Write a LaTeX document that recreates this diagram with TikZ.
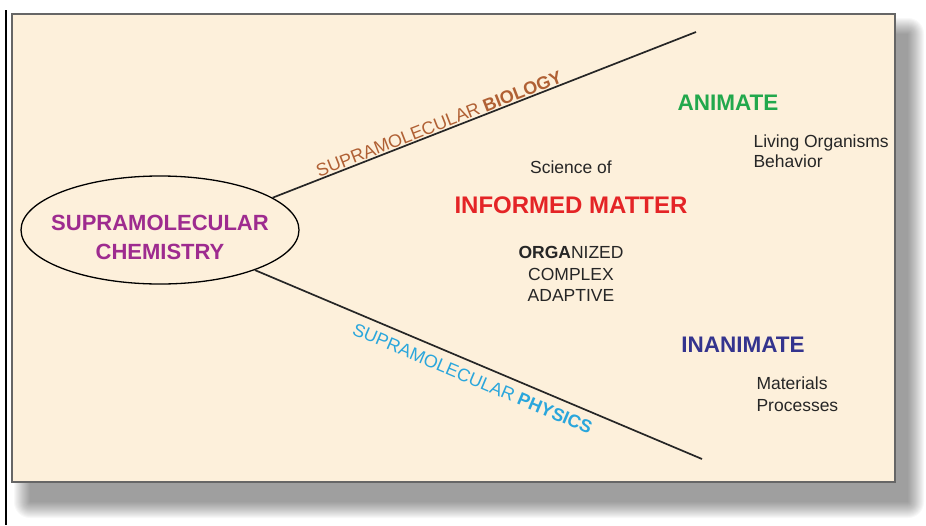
\documentclass[tikz,border=0pt]{standalone}
\usepackage{fontspec}
\setmainfont{Liberation Sans}
\usetikzlibrary{shapes.geometric}

\definecolor{paper}{RGB}{253,240,219}
\definecolor{chemcol}{RGB}{158,43,143}
\definecolor{biocol}{RGB}{176,96,52}
\definecolor{physcol}{RGB}{42,166,220}
\definecolor{animcol}{RGB}{34,168,76}
\definecolor{mattercol}{RGB}{228,36,38}
\definecolor{inanimcol}{RGB}{52,52,142}
\definecolor{textcol}{RGB}{38,38,38}

\tikzstyle{chem} = [ellipse, draw=black, line width=1.3pt, minimum width=278pt, minimum height=108pt, inner sep=0pt]
\tikzstyle{chemtext} = [text=chemcol, font=\fontsize{22}{29}\selectfont\bfseries, align=center]
\tikzstyle{branch} = [line width=1.7pt, black!85]
\tikzstyle{branchlabel} = [sloped, font=\fontsize{18}{20}\selectfont, inner sep=1pt]
\tikzstyle{heading} = [font=\fontsize{22.5}{27}\selectfont\bfseries]
\tikzstyle{plain} = [text=textcol, font=\fontsize{17.5}{21}\selectfont]

\begin{document}
\begin{tikzpicture}[x=1pt, y=-1pt, node distance=38pt]
\useasboundingbox (0,0) rectangle (926,525);

% soft shadow and panel
\foreach \r in {0,...,16}
  \fill[black, opacity=0.027, rounded corners=\r pt] (30-\r,34-\r) rectangle (908+\r,502+\r);
\fill[paper, draw=black!60, line width=1.2pt] (12,14) rectangle (895,482);
\draw[line width=1.2pt] (6,10) -- (6,525);

% left hub
\node (chem) [chem] at (160,230) {};
\node (chemname) [chemtext] at (160,237) {SUPRAMOLECULAR\\CHEMISTRY};

\coordinate (bioend) at (696,32);
\coordinate (physend) at (702,459);

\draw [branch] (chem.16) -- node[branchlabel, above, pos=0.40, text=biocol] {SUPRAMOLECULAR \textbf{BIOLOGY}} (bioend);
\draw [branch] (chem) -- node[branchlabel, below, pos=0.5, inner sep=8pt, text=physcol] {SUPRAMOLECULAR \textbf{PHYSICS}} (physend);

% middle
\node (matter) [heading, text=mattercol, font=\fontsize{24}{28}\selectfont\bfseries] at (571,205) {INFORMED MATTER};
\node (science) [plain, above of=matter] {Science of};
\node (traits) [plain, align=center, below of=matter, node distance=69pt, font=\fontsize{17.5}{21.5}\selectfont] {\textbf{ORGA}NIZED\\COMPLEX\\ADAPTIVE};

% right side
\node (animate) [heading, text=animcol] at (728,103) {ANIMATE};
\node (living) [plain, anchor=west, align=left, font=\fontsize{17.5}{19.5}\selectfont] at (750,151) {Living Organisms\\Behavior};

\node (inanimate) [heading, text=inanimcol] at (743,345) {INANIMATE};
\node (materials) [plain, anchor=west, align=left, font=\fontsize{17.5}{22}\selectfont] at (753,394) {Materials\\Processes};
\end{tikzpicture}
\end{document}
